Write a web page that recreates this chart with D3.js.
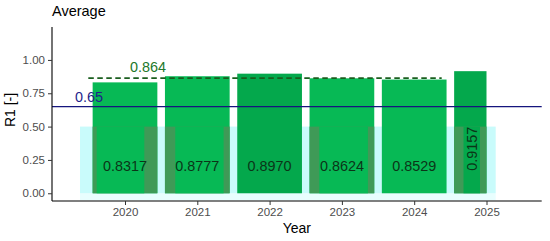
<!DOCTYPE html>
<html>
<head>
  <meta charset="UTF-8">
  <style>
    body { margin: 0; background: #fff; }
    svg { display: block; font-family: "Liberation Sans", Arial, sans-serif; }
  </style>
</head>
<body>
<svg></svg>
<script src="https://d3js.org/d3.v7.min.js"></script>
<script>

// chart data
let years = ["2020", "2021", "2022", "2023", "2024", "2025"];
let r1 = [0.8317, 0.8777, 0.8970, 0.8624, 0.8529, 0.9157];
let r1Labels = ["0.8317", "0.8777", "0.8970", "0.8624", "0.8529", "0.9157"];
let average = 0.864;
let threshold = 0.65;
let yTicks = [0, 0.25, 0.5, 0.75, 1.0];

let width = 550, height = 241;

let svg = d3.select("svg")
    .attr("width", width)
    .attr("height", height);

// panel
let pLeft = 52, pRight = 541.7, pTop = 27, pBottom = 201;

let y = d3.scaleLinear()
    .domain([-0.058, 1.247])
    .range([pBottom, pTop]);

let x = d3.scalePoint()
    .domain(years)
    .range([125, 486.5]);

let step = x.step();
let bw = step * 0.895;

// darker bars and odd lighter patches over the lower part
let darkYears = ["2022", "2025"];
let patches = {
    "2020": [-28.3, 19.3],
    "2021": [-22, 26.3],
    "2023": [-22.6, 26],
    "2025": [-23, -6.5]
};

function barX(d) {
    return x(d) - bw / 2;
}
function barW(d) {
    return d === "2025" ? bw / 2 : bw;
}

// cyan band behind the bars
svg.append("rect")
    .attr("x", 80)
    .attr("y", y(0))
    .attr("width", 495.7 - 80)
    .attr("height", 7)
    .attr("fill", "#e8fefe");
svg.append("rect")
    .attr("x", 80)
    .attr("y", y(0.5))
    .attr("width", 495.7 - 80)
    .attr("height", y(0) - y(0.5))
    .attr("fill", "#c9fbfb");

// bars
svg.append("g")
    .selectAll("rect")
    .data(years)
    .enter()
    .append("rect")
    .attr("x", d => barX(d))
    .attr("width", d => barW(d))
    .attr("y", (d, i) => y(r1[i]))
    .attr("height", (d, i) => y(0) - y(r1[i]))
    .attr("fill", d => darkYears.includes(d) ? "#04a84c" : "#07b955");

// lower strips + patches
let patched = years.filter(d => patches[d]);
svg.append("g")
    .selectAll("rect")
    .data(patched)
    .enter()
    .append("rect")
    .attr("x", d => barX(d))
    .attr("width", d => barW(d))
    .attr("y", y(0.5))
    .attr("height", y(0) - y(0.5))
    .attr("fill", "#3f9a57");

svg.append("g")
    .selectAll("rect")
    .data(patched)
    .enter()
    .append("rect")
    .attr("x", d => x(d) + patches[d][0])
    .attr("width", d => patches[d][1] - patches[d][0])
    .attr("y", y(0.5))
    .attr("height", y(0) - y(0.5))
    .attr("fill", d => darkYears.includes(d) ? "#04a84c" : "#07b955");

// threshold line
svg.append("line")
    .attr("x1", pLeft)
    .attr("x2", pRight)
    .attr("y1", y(threshold))
    .attr("y2", y(threshold))
    .attr("stroke", "#15157e")
    .attr("stroke-width", 1.3);

svg.append("text")
    .attr("x", 89)
    .attr("y", y(threshold) - 5)
    .attr("text-anchor", "middle")
    .attr("fill", "#1f1f8c")
    .style("font-size", "14.4px")
    .text(threshold);

// average dashed line
svg.append("line")
    .attr("x1", 88.3)
    .attr("x2", 441.7)
    .attr("y1", y(average))
    .attr("y2", y(average))
    .attr("stroke", "#1a5e1e")
    .attr("stroke-width", 1.7)
    .attr("stroke-dasharray", "5.5,3.5");

svg.append("text")
    .attr("x", 148)
    .attr("y", y(average) - 6.5)
    .attr("text-anchor", "middle")
    .attr("fill", "#22782a")
    .style("font-size", "14.4px")
    .text(average);

// bar labels
svg.append("g")
    .selectAll("text")
    .data(years)
    .enter()
    .append("text")
    .attr("transform", (d, i) => d === "2025"
        ? "translate(" + (x(d) - bw / 4 + 1) + "," + y(0.333) + ") rotate(-90)"
        : "translate(" + x(d) + "," + y(0.205) + ")")
    .attr("text-anchor", "middle")
    .attr("dy", "0.36em")
    .attr("fill", "#0b3518")
    .style("font-size", "14.4px")
    .text((d, i) => r1Labels[i]);

// axes
let yAxis = svg.append("g")
    .attr("transform", "translate(" + pLeft + ",0)")
    .call(d3.axisLeft(y).tickValues(yTicks).tickFormat(d3.format(".2f")).tickSize(4).tickPadding(3));
yAxis.select(".domain").attr("d", "M0," + pTop + "V" + pBottom).attr("stroke-width", 1.1);

let xAxis = svg.append("g")
    .attr("transform", "translate(0," + pBottom + ")")
    .call(d3.axisBottom(x).tickSize(4).tickPadding(3));
xAxis.select(".domain").attr("d", "M" + pLeft + ",0H" + pRight).attr("stroke-width", 1.1);

svg.selectAll(".tick text")
    .attr("fill", "#4d4d4d")
    .style("font-size", "11.5px")
    .style("font-family", "Liberation Sans, Arial, sans-serif");
svg.selectAll(".tick line").attr("stroke", "#333");

// titles
svg.append("text")
    .attr("x", pLeft)
    .attr("y", 16)
    .style("font-size", "14.5px")
    .text("Average");

svg.append("text")
    .attr("x", (pLeft + pRight) / 2)
    .attr("y", 233)
    .attr("text-anchor", "middle")
    .style("font-size", "14px")
    .text("Year");

svg.append("text")
    .attr("transform", "translate(15," + 110 + ") rotate(-90)")
    .attr("text-anchor", "middle")
    .style("font-size", "14px")
    .text("R1 [-]");

</script>
</body>
</html>
